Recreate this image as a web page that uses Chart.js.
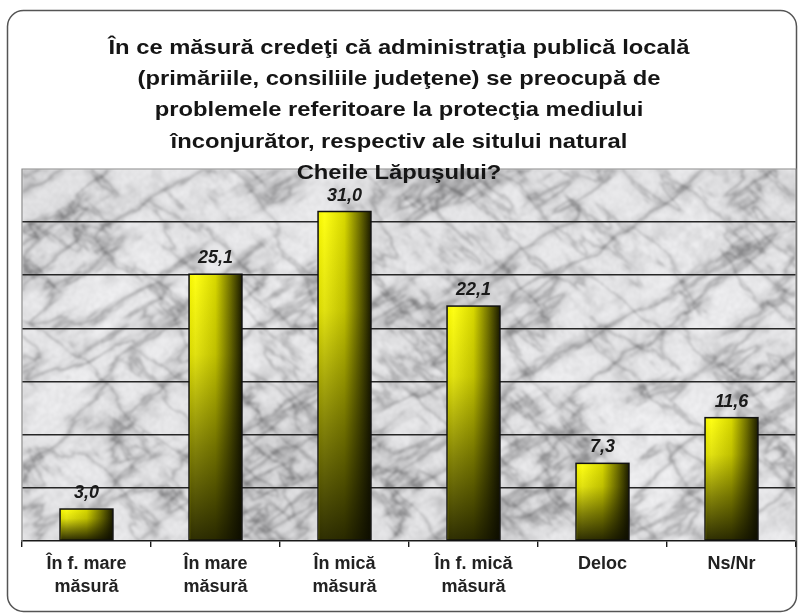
<!DOCTYPE html>
<html><head><meta charset="utf-8">
<script src="https://cdn.jsdelivr.net/npm/chart.js@4.4.1/dist/chart.umd.min.js"></script>
<style>html,body{margin:0;padding:0;background:#fff;} canvas{display:block;}</style>
</head><body>
<canvas id="c" width="801" height="615"></canvas>
<script>
const titleLines = [
  'În ce măsură credeţi că administraţia publică locală',
  '(primăriile, consiliile judeţene) se preocupă de',
  'problemele referitoare la protecţia mediului',
  'înconjurător, respectiv ale sitului natural',
  'Cheile Lăpuşului?'
];
const categories = [['În f. mare','măsură'],['În mare','măsură'],['În mică','măsură'],['În f. mică','măsură'],['Deloc'],['Ns/Nr']];
const values = [3.0, 25.1, 31.0, 22.1, 7.3, 11.6];
const yMin = 0, yMax = 35, yStep = 5;

const FONT = '"Liberation Sans", Arial, sans-serif';

// deterministic value noise for the marble backdrop (decoration only)
function makeMarble(w, h) {
  const c = document.createElement('canvas'); c.width = w; c.height = h;
  const g = c.getContext('2d');
  const img = g.createImageData(w, h);
  let s = 98765;
  function rnd() { s = (s * 1103515245 + 12345) & 0x7fffffff; return s / 0x7fffffff; }
  const GN = 128; const grid = [];
  for (let i = 0; i < GN * GN; i++) grid.push(rnd());
  const m = (k) => ((k % GN) + GN) % GN;
  function vn(x, y) {
    const xi = Math.floor(x), yi = Math.floor(y); const xf = x - xi, yf = y - yi;
    const a = grid[m(yi) * GN + m(xi)], b = grid[m(yi) * GN + m(xi + 1)];
    const cc = grid[m(yi + 1) * GN + m(xi)], d = grid[m(yi + 1) * GN + m(xi + 1)];
    const u = xf * xf * (3 - 2 * xf), v = yf * yf * (3 - 2 * yf);
    return a + (b - a) * u + (cc - a) * v + (a - b - cc + d) * u * v;
  }
  function fbm(x, y, oct) { let t = 0, amp = 1, f = 1, n = 0; for (let o = 0; o < oct; o++) { t += vn(x * f, y * f) * amp; n += amp; amp *= 0.55; f *= 2.03; } return t / n; }
  const A1 = -0.55, A2 = 0.75;
  const c1 = Math.cos(A1), s1 = Math.sin(A1), c2 = Math.cos(A2), s2 = Math.sin(A2);
  for (let y = 0; y < h; y++) {
    for (let x = 0; x < w; x++) {
      const u1 = x * c1 + y * s1, v1 = -x * s1 + y * c1;
      const u2 = x * c2 + y * s2, v2 = -x * s2 + y * c2;
      const r1 = 1 - Math.abs(2 * fbm(u1 / 110 + 3, v1 / 35, 5) - 1);
      const r2 = 1 - Math.abs(2 * fbm(u2 / 90 + 40, v2 / 30 + 11, 5) - 1);
      const mott = fbm(x / 22 + 60, y / 22, 4);
      const fine = vn(x / 2.5 + 200, y / 2.5);
      let col = 230 + (fbm(x / 140 + 5, y / 140, 3) - 0.5) * 24;
      col -= Math.pow(r1, 12) * 60 + Math.pow(r2, 16) * 48;
      col -= Math.max(0, mott - 0.55) * 75;
      col += (fine - 0.5) * 12;
      col = Math.max(120, Math.min(250, col));
      const i = (y * w + x) * 4;
      img.data[i] = col; img.data[i + 1] = col; img.data[i + 2] = col + 2; img.data[i + 3] = 255;
    }
  }
  g.putImageData(img, 0, 0);
  const c2v = document.createElement('canvas'); c2v.width = w; c2v.height = h;
  const g2 = c2v.getContext('2d');
  g2.filter = 'blur(0.8px)';
  g2.drawImage(c, 0, 0);
  return c2v;
}

let marble = null;
const decorPlugin = {
  id: 'decor',
  beforeDraw(chart) {
    const ctx = chart.ctx; const a = chart.chartArea;
    ctx.save();
    ctx.fillStyle = '#fff'; ctx.fillRect(0, 0, chart.width, chart.height);
    ctx.beginPath();
    ctx.roundRect(7.5, 10.5, 789, 601, 16);
    ctx.fillStyle = '#fff'; ctx.fill();
    ctx.lineWidth = 1.5; ctx.strokeStyle = '#555'; ctx.stroke();
    const w = Math.round(a.right - a.left), h = Math.round(a.bottom - a.top);
    if (!marble || marble.width !== w || marble.height !== h) marble = makeMarble(w, h);
    ctx.drawImage(marble, a.left, a.top);
    ctx.restore();
  },
  afterDatasetsDraw(chart) {
    const ctx = chart.ctx; const a = chart.chartArea;
    const meta = chart.getDatasetMeta(0);
    ctx.save();
    meta.data.forEach((el, i) => {
      const p = el.getProps(['x', 'y', 'base', 'width'], true);
      const left = p.x - p.width / 2, top = Math.min(p.y, p.base), hgt = Math.abs(p.base - p.y);
      const vg = ctx.createLinearGradient(0, top, 0, top + hgt);
      vg.addColorStop(0, 'rgba(0,0,0,0)');
      vg.addColorStop(0.3, 'rgba(10,10,0,0.12)');
      vg.addColorStop(0.65, 'rgba(10,10,0,0.5)');
      vg.addColorStop(1, 'rgba(10,10,0,0.85)');
      ctx.fillStyle = vg;
      ctx.fillRect(left + 1, top + 1, p.width - 2, hgt - 1);
      ctx.lineWidth = 1.5; ctx.strokeStyle = '#111';
      ctx.strokeRect(left, top, p.width, hgt);
      ctx.font = 'italic bold 18px ' + FONT;
      ctx.fillStyle = '#1a1a1a'; ctx.textAlign = 'center'; ctx.textBaseline = 'alphabetic';
      ctx.fillText(values[i].toFixed(1).replace('.', ','), p.x, p.y - 11);
    });
    ctx.strokeStyle = '#8a8a8a'; ctx.lineWidth = 1.2;
    ctx.beginPath();
    ctx.moveTo(a.left, a.bottom); ctx.lineTo(a.left, a.top); ctx.lineTo(a.right, a.top); ctx.lineTo(a.right, a.bottom);
    ctx.stroke();
    ctx.restore();
  },
  afterDraw(chart) {
    const ctx = chart.ctx;
    ctx.save();
    ctx.font = 'bold 21px ' + FONT;
    ctx.fillStyle = '#151515'; ctx.textAlign = 'center'; ctx.textBaseline = 'alphabetic';
    const w0 = ctx.measureText(titleLines[0]).width;
    const sx = 581 / w0;
    titleLines.forEach((t, i) => {
      ctx.save();
      ctx.translate(399, 54 + i * 31.2);
      ctx.scale(sx, 1);
      ctx.fillText(t, 0, 0);
      ctx.restore();
    });
    ctx.restore();
  }
};

const BAR_FRAC = 0.41;
new Chart(document.getElementById('c'), {
  type: 'bar',
  data: {
    labels: categories,
    datasets: [{
      data: values,
      backgroundColor: (c) => {
        const chart = c.chart;
        if (!chart.chartArea || c.type !== 'data') return '#ee0';
        const xs = chart.scales.x;
        const cx = xs.getPixelForValue(c.dataIndex);
        const half = (xs.width / categories.length) * BAR_FRAC / 2;
        const g = chart.ctx.createLinearGradient(cx - half, 0, cx + half, 0);
        g.addColorStop(0, '#f4f400');
        g.addColorStop(0.12, '#ffff14');
        g.addColorStop(0.5, '#d8d800');
        g.addColorStop(0.78, '#727200');
        g.addColorStop(1, '#1c1c00');
        return g;
      },
      borderWidth: 0,
      barPercentage: BAR_FRAC,
      categoryPercentage: 1
    }]
  },
  options: {
    responsive: false,
    animation: false,
    devicePixelRatio: 1,
    layout: { padding: { left: 22, right: 5, top: 169, bottom: 10 } },
    plugins: { legend: { display: false }, title: { display: false }, tooltip: { enabled: false } },
    scales: {
      y: {
        min: yMin, max: yMax,
        ticks: { display: false, stepSize: yStep },
        border: { display: false },
        grid: {
          drawTicks: false,
          lineWidth: 1.6,
          color: (c) => (c.tick && (c.tick.value === yMax || c.tick.value === yMin)) ? 'rgba(0,0,0,0)' : '#262626'
        }
      },
      x: {
        border: { display: true, color: '#1a1a1a', width: 1.6 },
        grid: { display: true, drawOnChartArea: false, drawTicks: true, tickLength: 6, color: '#1a1a1a', lineWidth: 1.4, offset: true },
        ticks: {
          color: '#222',
          padding: 6,
          maxRotation: 0, autoSkip: false,
          font: { family: FONT, size: 18, weight: 'bold', lineHeight: 1.28 }
        }
      }
    }
  },
  plugins: [decorPlugin]
});
</script>
</body></html>
